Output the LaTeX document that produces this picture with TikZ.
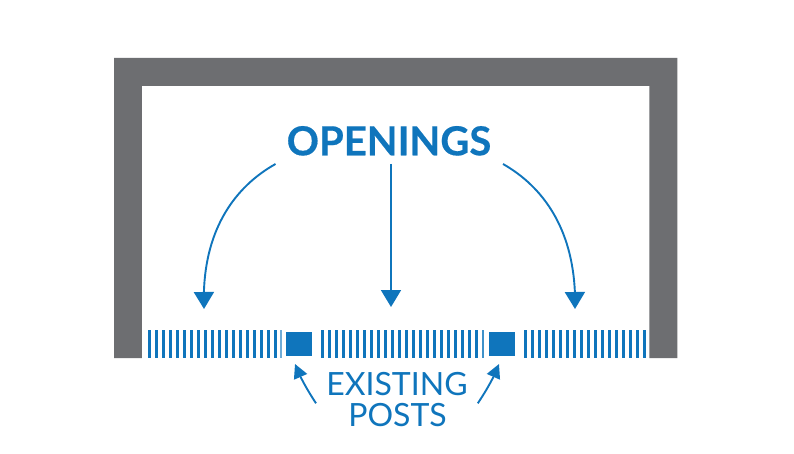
\documentclass[tikz,border=0pt]{standalone}
\usepackage{fontspec}
\setmainfont{Lato}
\newfontfamily\headingfont[FakeBold=0.4]{Lato Bold}
\usetikzlibrary{arrows.meta,bending}
\definecolor{wallgrey}{HTML}{6D6E71}
\definecolor{planblue}{HTML}{0F75BC}
\tikzset{
  wall/.style={fill=wallgrey,draw=none},
  slat/.style={fill=planblue,draw=none},
  post/.style={fill=planblue,draw=none,minimum width=25.6pt,minimum height=23.6pt,inner sep=0pt,outer sep=0pt},
  bigarrow/.style={draw=planblue,line width=1.9pt,-{Triangle[length=17pt,width=20pt,flex=1]}},
  smallarrow/.style={draw=planblue,line width=1.9pt,-{Triangle[length=14pt,width=14pt,flex=1]}},
  labeltext/.style={text=planblue,inner sep=0pt,outer sep=0pt,anchor=base},
}
\begin{document}
\begin{tikzpicture}[x=1pt,y=-1pt]
\useasboundingbox (0,0) rectangle (794,454);
\fill[white] (0,0) rectangle (794,454);
% wall
\fill[wall] (114,358) -- (114,58) -- (677.3,58) -- (677.3,358) -- (649.3,358) -- (649.3,86) -- (141.8,86) -- (141.8,358) -- cycle;
% slats
\foreach \k in {0,...,18} {\fill[slat] ({147.7+7*\k},330) rectangle ++(2.95,28);}
\fill[planblue!60] (280.2,330) rectangle ++(1.4,28);
\foreach \k in {0,...,22} {\fill[slat] ({321.2+7*\k},330) rectangle ++(2.75,28);}
\fill[planblue!80] (482.1,330) rectangle ++(1.6,28);
\foreach \k in {0,...,17} {\fill[slat] ({523.7+7*\k},330) rectangle ++(2.95,28);}
% posts
\node[post] (postL) at (299.2,344.2) {};
\node[post] (postR) at (501.7,344.2) {};
% labels
\node[labeltext] (openings) at (389,155.3) {\fontsize{40}{40}\selectfont\headingfont OPENINGS};
\node[labeltext] (existing) at (397,395) {\fontsize{32}{32}\selectfont EXISTING};
\node[labeltext] (posts) at (397.5,426.5) {\fontsize{32}{32}\selectfont POSTS};
% connector ends
\coordinate (oL) at (275.5,164);
\coordinate (oM) at (391,164);
\coordinate (oR) at (503,164);
\coordinate (gapL) at (204,309);
\coordinate (gapM) at (391,307);
\coordinate (gapR) at (575,309);
\coordinate (eL) at (316,403.3);
\coordinate (eR) at (477.8,403.3);
\coordinate (tL) at (295,364);
\coordinate (tR) at (499,364);
% connectors
\draw[bigarrow] (oL) .. controls (231,189) and (201,236) .. (gapL);
\draw[bigarrow] (oM) -- (gapM);
\draw[bigarrow] (oR) .. controls (547,189) and (577,236) .. (gapR);
\draw[smallarrow] (eL) .. controls (306,388) and (299,375) .. (tL);
\draw[smallarrow] (eR) .. controls (488,388) and (495,375) .. (tR);
\end{tikzpicture}
\end{document}
